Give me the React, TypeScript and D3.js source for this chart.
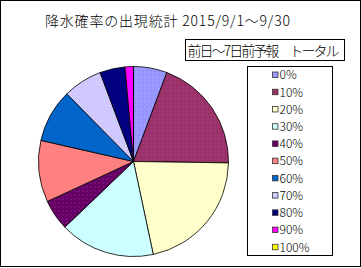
import React from 'react';
import * as d3 from 'd3';

const categories = ['0%', '10%', '20%', '30%', '40%', '50%', '60%', '70%', '80%', '90%', '100%'];
const counts = [12, 41, 45, 34, 11, 22, 19, 14, 9, 3, 0];
const colors = ['#9999FF', '#993366', '#FFFFCC', '#CCFFFF', '#660066', '#FF8080', '#0066CC', '#CCCCFF', '#000080', '#FF00FF', '#FFFF00'];
const dotColors = ['#7777dd', '#cc33cc', '', '', '#994499', '', '#2255aa', '#ff99ff', '', '', ''];
const titleText = '降水確率の出現統計 2015/9/1～9/30';
const subtitleText = '前日～7日前予報　トータル';

const W = 361;
const H = 268;
const cx = 133.5;
const cy = 161.5;
const R = 95;

export default function App() {
  const pie = d3.pie<number>().sort(null).value((d) => d).startAngle(0).endAngle(2 * Math.PI);
  const arcs = pie(counts);
  const arcGen = d3.arc<d3.PieArcDatum<number>>().innerRadius(0).outerRadius(R);
  const legendY = d3.scaleLinear().domain([0, categories.length - 1]).range([75, 247.3]);
  const jp = '"MS PGothic", "Noto Sans CJK JP", sans-serif';

  return (
    <svg width={W} height={H} style={{ position: 'absolute', left: 0, top: 0, background: '#fff' }}>
      <defs>
        {colors.map((c, i) =>
          dotColors[i] ? (
            <pattern key={i} id={`pat${i}`} width={4} height={4} patternUnits="userSpaceOnUse">
              <rect width={4} height={4} fill={c} />
              <rect x={1} y={1} width={1} height={1} fill={dotColors[i]} />
            </pattern>
          ) : null
        )}
      </defs>
      <rect x={0.5} y={0.5} width={W - 1} height={H - 2} fill="#fff" stroke="#000" strokeWidth={1} />
      <text x={45} y={26} fontFamily={jp} fontSize={14} fontWeight={300} textLength={245} lengthAdjust="spacing" fill="#000">
        {titleText}
      </text>
      <rect x={185.5} y={39.5} width={159} height={21} fill="#fff" stroke="#000" strokeWidth={1} />
      <text x={187.5} y={56} fontFamily={jp} fontSize={14} fontWeight={300} textLength={152} lengthAdjust="spacing" fill="#000">
        {subtitleText}
      </text>
      <g transform={`translate(${cx},${cy})`}>
        {arcs.map((a, i) => (
          <path
            key={i}
            d={arcGen(a) || ''}
            fill={dotColors[i] ? `url(#pat${i})` : colors[i]}
            stroke="#000"
            strokeWidth={0.8}
          />
        ))}
      </g>
      <rect x={247.5} y={66.5} width={85} height={189} fill="#fff" stroke="#000" strokeWidth={1} />
      {categories.map((c, i) => (
        <g key={c}>
          <rect
            x={272.5}
            y={legendY(i) - 3}
            width={5.5}
            height={5.5}
            fill={colors[i]}
            stroke="#333"
            strokeWidth={0.8}
          />
          <text
            x={279.5}
            y={legendY(i) + 4.3}
            fontFamily={jp}
            fontSize={12}
            fontWeight={300}
            fill="#000"
          >
            {c}
          </text>
        </g>
      ))}
    </svg>
  );
}
